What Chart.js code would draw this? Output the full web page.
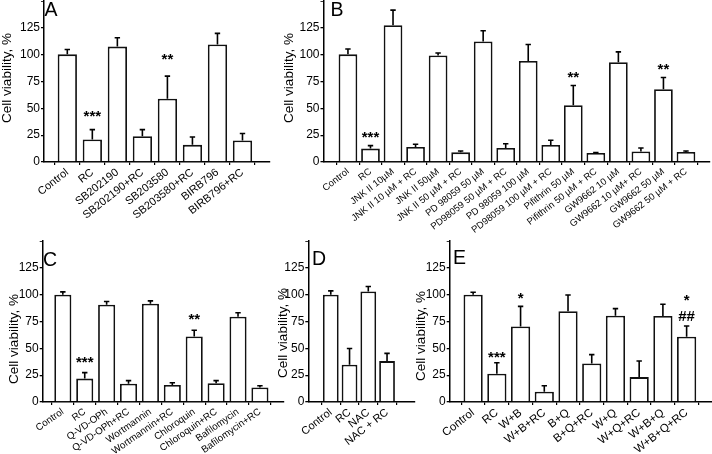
<!DOCTYPE html>
<html>
<head>
<meta charset="utf-8">
<script src="https://cdn.jsdelivr.net/npm/chart.js@4.4.1/dist/chart.umd.min.js"></script>
<style>
  body { margin: 0; background: #fff; width: 712px; height: 454px; position: relative; overflow: hidden; }
  canvas { position: absolute; }
</style>
</head>
<body>
<canvas id="panel-a"></canvas>
<canvas id="panel-b"></canvas>
<canvas id="panel-c"></canvas>
<canvas id="panel-d"></canvas>
<canvas id="panel-e"></canvas>
<script>
// --- data (cell viability, % of control) ---
const yMajor = [0, 25, 50, 75, 100, 125];
const yMax = 150;
const yTitle = 'Cell viability, %';

const labelsA = ['Control', 'RC', 'SB202190', 'SB202190+RC', 'SB203580', 'SB203580+RC', 'BIRB796', 'BIRB796+RC'];
const valuesA = [100.3, 21, 107.5, 24, 59, 16, 109.5, 20];
const errorsA = [4.5, 9.2, 8.2, 6.2, 21, 7.3, 10.3, 6.5];
const marksA = [[1, '***', 45], [4, '**', 98]];

const labelsB = ['Control', 'RC', 'JNK II 10µM', 'JNK II 10 µM + RC', 'JNK II 50µM', 'JNK II 50 µM + RC',
  'PD 98059 50 µM', 'PD98059 50 µM + RC', 'PD 98059 100 µM', 'PD98059 100 µM + RC', 'Pifithrin 50 µM',
  'Pifithrin 50 µM + RC', 'GW9662 10 µM', 'GW9662 10 µM+ RC', 'GW9662 50 µM', 'GW9662 50 µM + RC'];
const valuesB = [100.3, 12.5, 127.5, 14, 99.3, 9, 112.3, 13, 94.2, 15.8, 52.9, 8.4, 93, 9.8, 67.8, 9.3];
const errorsB = [5, 2.8, 14, 2.5, 2.2, 1.3, 10, 4, 15.3, 4.4, 18.4, 0.3, 9.6, 3.2, 10.9, 1];
const marksB = [[1, '***', 25.5], [10, '**', 80.6], [14, '**', 88.6]];

const labelsC = ['Control', 'RC', 'Q-VD-OPh', 'Q-VD-OPh+RC', 'Wortmannin', 'Wortmannin+RC', 'Chloroquin',
  'Chloroquin+RC', 'Bafilomycin', 'Bafilomycin+RC'];
const valuesC = [100, 21.8, 90.7, 17.1, 91.6, 15.9, 61, 17.4, 79.5, 13.6];
const errorsC = [2.6, 5.6, 2.9, 2.8, 2.6, 2, 5.8, 2.5, 3.7, 1.6];
const marksC = [[1, '***', 39.5], [6, '**', 79.3]];

const labelsD = ['Control', 'RC', 'NAC', 'NAC + RC'];
const valuesD = [100, 34.7, 102.9, 38.1];
const errorsD = [3.5, 15.2, 4.7, 7.2];
const marksD = [];

const labelsE = ['Control', 'RC', 'W+B', 'W+B+RC', 'B+Q', 'B+Q+RC', 'W+Q', 'W+Q+RC', 'W+B+Q', 'W+B+Q+RC'];
const valuesE = [100, 26.4, 70.4, 9.6, 84.6, 35.8, 80.4, 23.2, 80.1, 60.8];
const errorsE = [2.2, 10.2, 18.7, 5.6, 15.1, 8.3, 6.6, 15, 11, 10];
const marksE = [[1, '***', 44.2], [2, '*', 98.6], [9, '*', 97], [9, '##', 80.2]];

const SANS = "'Liberation Sans', Arial, sans-serif";

function drawPanel(id, p) {
  const canvas = document.getElementById(id);
  const b = p.box;
  canvas.width = b.width;
  canvas.height = b.height;
  Object.assign(canvas.style, {
    left: b.left + 'px', top: b.top + 'px', width: b.width + 'px', height: b.height + 'px'
  });

  const yAxisW = p.plot.left - b.left;
  const xAxisH = b.top + b.height - p.plot.bottom;

  // error bars, significance marks, axis title and panel letter
  const extras = {
    id: 'extras',
    afterDatasetsDraw(chart) {
      const { ctx, scales: { x, y } } = chart;
      const meta = chart.getDatasetMeta(0);
      ctx.save();
      ctx.strokeStyle = '#000';
      ctx.lineWidth = 1.6;
      meta.data.forEach((bar, i) => {
        const top = y.getPixelForValue(p.values[i] + p.errors[i]);
        ctx.beginPath();
        ctx.moveTo(bar.x, bar.y);
        ctx.lineTo(bar.x, top);
        ctx.moveTo(bar.x - 2.7, top);
        ctx.lineTo(bar.x + 2.7, top);
        ctx.stroke();
      });

      ctx.fillStyle = '#000';
      ctx.textAlign = 'center';
      ctx.textBaseline = 'alphabetic';
      ctx.font = 'bold 15px ' + SANS;
      p.marks.forEach(([i, text, v]) => {
        const m = ctx.measureText(text);
        const py = y.getPixelForValue(v);
        ctx.fillText(text, x.getPixelForValue(i), py + (m.actualBoundingBoxAscent - m.actualBoundingBoxDescent) / 2);
      });

      ctx.save();
      ctx.translate(p.titlePos[0] - b.left, p.titlePos[1] - b.top);
      ctx.rotate(-Math.PI / 2);
      ctx.textBaseline = 'middle';
      ctx.font = '13.5px ' + SANS;
      ctx.fillText(yTitle, 0, 0);
      ctx.restore();

      ctx.textAlign = 'left';
      ctx.font = '19.5px ' + SANS;
      ctx.fillText(p.letter, p.letterPos[0] - b.left, p.letterPos[1] - b.top);
      ctx.restore();
    }
  };

  new Chart(canvas, {
    type: 'bar',
    data: {
      datasets: [{
        data: p.values.map((v, i) => ({ x: i, y: v })),
        backgroundColor: '#fff',
        borderColor: '#111',
        borderWidth: 1.8,
        barPercentage: p.bar,
        categoryPercentage: 1
      }]
    },
    options: {
      responsive: false,
      animation: false,
      devicePixelRatio: 1,
      events: [],
      layout: {
        padding: { top: p.plot.top - b.top, right: b.left + b.width - p.plot.right, left: 0, bottom: 0 }
      },
      plugins: { legend: { display: false }, tooltip: { enabled: false } },
      scales: {
        x: {
          type: 'linear',
          min: p.xmin,
          max: p.xmax,
          afterBuildTicks: s => { s.ticks = p.labels.map((_, i) => ({ value: i })); },
          afterFit: s => { s.height = xAxisH; s.paddingLeft = 0; s.paddingRight = 0; },
          ticks: {
            autoSkip: false,
            minRotation: p.rot,
            maxRotation: p.rot,
            padding: 1,
            color: '#000',
            font: { family: SANS, size: p.xFont },
            callback: v => p.labels[v]
          },
          grid: { drawOnChartArea: false, color: '#000', tickLength: 3, lineWidth: 1.2 },
          border: { color: '#000', width: 1.5 }
        },
        y: {
          min: 0,
          max: yMax,
          afterBuildTicks: s => {
            const ticks = [];
            for (let v = 0; v <= yMax; v += 12.5) ticks.push({ value: v });
            s.ticks = ticks;
          },
          afterFit: s => { s.width = yAxisW; s.paddingTop = 0; s.paddingBottom = 0; },
          ticks: {
            padding: 1,
            color: '#000',
            font: { family: SANS, size: 12 },
            callback: v => yMajor.includes(v) ? String(v) : ''
          },
          grid: {
            drawOnChartArea: false,
            color: '#000',
            tickLength: 3,
            lineWidth: c => (c.tick && yMajor.includes(c.tick.value)) ? 1.3 : 0.8
          },
          border: { color: '#000', width: 1.5 }
        }
      }
    },
    plugins: [extras]
  });
}

drawPanel('panel-a', {
  labels: labelsA, values: valuesA, errors: errorsA, marks: marksA, letter: 'A',
  box: { left: 0, top: 0, width: 280, height: 238 },
  plot: { left: 44, right: 270, top: 1, bottom: 162 },
  xmin: -0.367, xmax: 7.535, bar: 0.77, rot: 38, xFont: 11,
  titlePos: [7, 78], letterPos: [44.5, 16]
});

drawPanel('panel-b', {
  labels: labelsB, values: valuesB, errors: errorsB, marks: marksB, letter: 'B',
  box: { left: 262, top: 0, width: 450, height: 238 },
  plot: { left: 323.5, right: 710, top: 1, bottom: 162 },
  xmin: -0.549, xmax: 15.53, bar: 0.83, rot: 38, xFont: 9.5,
  titlePos: [289, 78], letterPos: [330.5, 16]
});

drawPanel('panel-c', {
  labels: labelsC, values: valuesC, errors: errorsC, marks: marksC, letter: 'C',
  box: { left: 0, top: 230, width: 290, height: 224 },
  plot: { left: 42.7, right: 283.3, top: 241, bottom: 402 },
  xmin: -0.37, xmax: 9.518, bar: 0.78, rot: 35, xFont: 9.8,
  titlePos: [14, 339], letterPos: [43, 266]
});

drawPanel('panel-d', {
  labels: labelsD, values: valuesD, errors: errorsD, marks: marksD, letter: 'D',
  box: { left: 270, top: 230, width: 150, height: 224 },
  plot: { left: 308.3, right: 415, top: 241, bottom: 402 },
  xmin: -0.488, xmax: 3.78, bar: 0.84, rot: 38, xFont: 11,
  titlePos: [283, 333], letterPos: [312, 265]
});

drawPanel('panel-e', {
  labels: labelsE, values: valuesE, errors: errorsE, marks: marksE, letter: 'E',
  box: { left: 410, top: 230, width: 302, height: 224 },
  plot: { left: 449.7, right: 711.5, top: 241, bottom: 402 },
  xmin: -0.436, xmax: 9.497, bar: 0.81, rot: 38, xFont: 11.5,
  titlePos: [421.5, 336], letterPos: [453, 263.5]
});
</script>
</body>
</html>
